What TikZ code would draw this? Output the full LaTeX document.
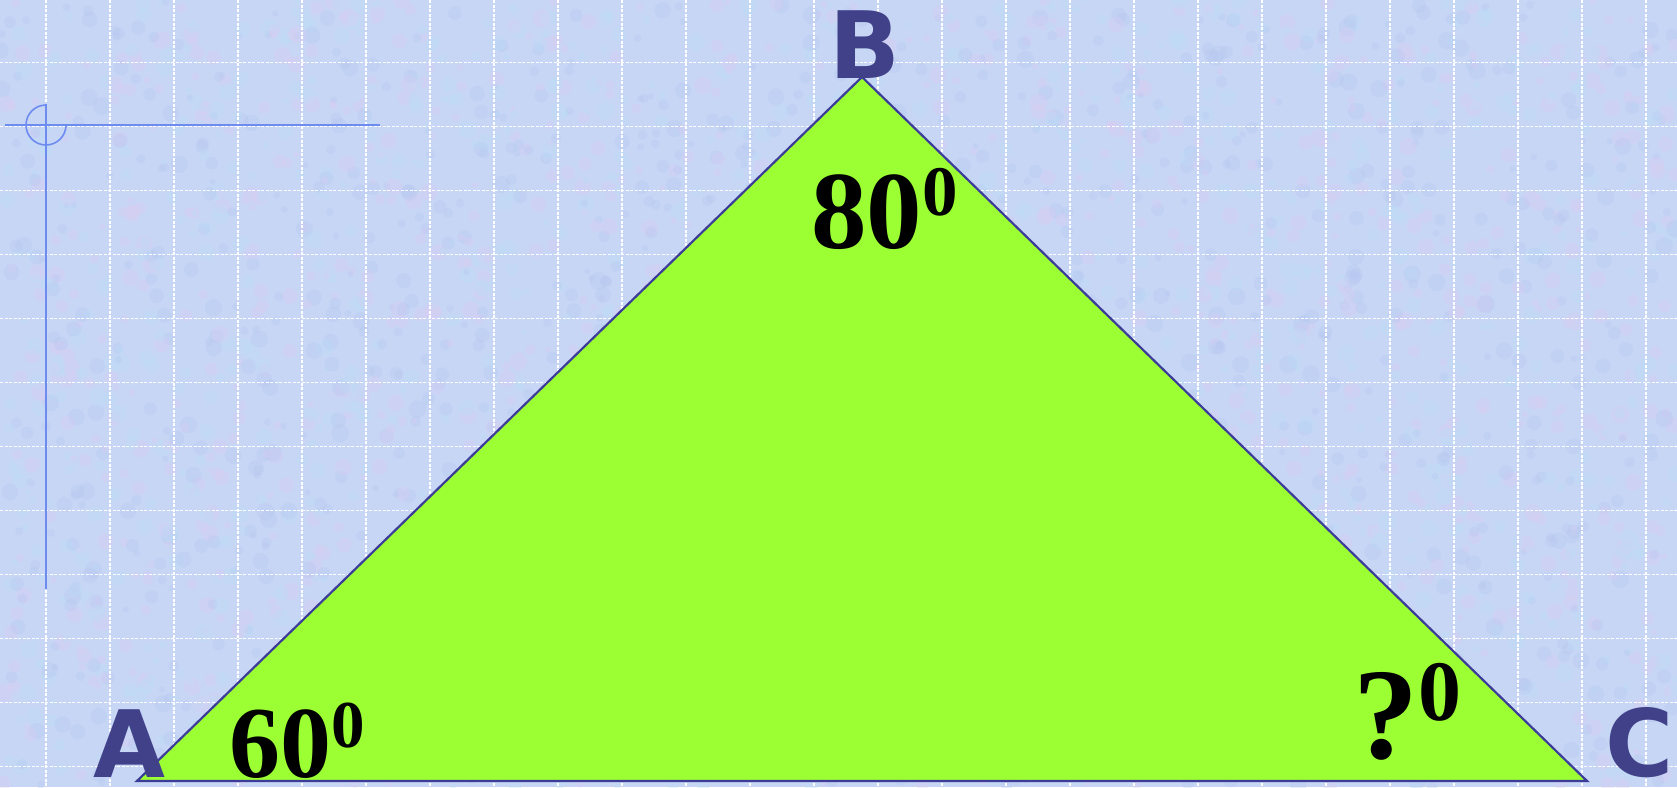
\documentclass[tikz,border=0pt]{standalone}
\usepackage{fontspec}
\setmainfont{Liberation Serif}
\newfontfamily\lblfont{DejaVu Sans}
\definecolor{bgcol}{HTML}{C7D6F5}
\definecolor{pinkt}{HTML}{DCCCF2}
\definecolor{cyant}{HTML}{BADDF8}
\definecolor{bluet}{HTML}{B4C6F0}
\definecolor{crosscol}{HTML}{6E8CF0}
\definecolor{trifill}{HTML}{9CFF33}
\definecolor{triline}{HTML}{3D3D99}
\definecolor{lblcol}{HTML}{414189}
\tikzset{
  gridline/.style={white, line width=1.4pt, dash pattern=on 3pt off 1.5pt},
  crossline/.style={crosscol, line width=1.6pt},
  tri/.style={fill=trifill, draw=triline, line width=2.2pt, line join=miter},
  vlabel/.style={inner sep=0pt, anchor=base, text depth=0pt, text=lblcol, font=\lblfont\bfseries\fontsize{93}{93}\selectfont},
  anglabel/.style={inner sep=0pt, anchor=base west, text depth=0pt, text=black, font=\bfseries},
  blot/.style={fill opacity=0.3}
}
\pgfmathdeclarerandomlist{texcols}{{pinkt}{cyant}{bluet}}
\begin{document}
\begin{tikzpicture}[x=1pt,y=-1pt]
\useasboundingbox (0,0) rectangle (1677,787);
\fill[bgcol] (0,0) rectangle (1677,787);
\begin{scope}
\clip (0,0) rectangle (1677,787);
\pgfmathsetseed{11}
\foreach \k in {1,...,3500}{
  \pgfmathsetmacro\px{rnd*1677}
  \pgfmathsetmacro\py{rnd*787}
  \pgfmathsetmacro\pr{3+rnd*6}
  \pgfmathrandomitem{\cc}{texcols}
  \fill[\cc, blot] (\px,\py) circle[radius=\pr pt];
}
\end{scope}
\foreach \i in {0,...,25} \draw[gridline] (46+64*\i,0) -- (46+64*\i,787);
\foreach \j in {0,...,11} \draw[gridline] (0,62.5+64*\j) -- (1677,62.5+64*\j);
% crosshair
\coordinate (hl) at (5,125);
\coordinate (hr) at (380,125);
\coordinate (vt) at (46,104);
\coordinate (vb) at (46,589);
\draw[crossline] (hl) -- (hr);
\draw[crossline] (vt) -- (vb);
\draw[crossline] (46,105) arc[start angle=90, end angle=360, radius=20pt];
% triangle
\coordinate (A) at (137,781);
\coordinate (B) at (862,77);
\coordinate (C) at (1587,781);
\draw[tri] (A) -- (B) -- (C) -- cycle;
% vertex labels
\node[vlabel] (lA) at (129.5,777) {A};
\node[vlabel] (lB) at (865,78) {B};
\node[vlabel] (lC) at (1640,776) {C};
% angle labels
\node[anglabel] (a80) at (811,248) {\fontsize{111}{111}\selectfont 80\raisebox{33pt}{\fontsize{71}{71}\selectfont 0}};
\node[anglabel] (a60) at (229,777) {\fontsize{102}{102}\selectfont 60\raisebox{30pt}{\fontsize{67}{67}\selectfont 0}};
\node[anglabel] (aq) at (1353,758) {\fontsize{130}{130}\selectfont ?\raisebox{38pt}{\fontsize{86}{86}\selectfont 0}};
\end{tikzpicture}
\end{document}
